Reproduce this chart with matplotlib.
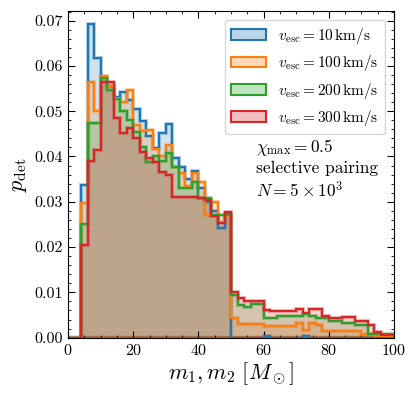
import numpy as np
import matplotlib
matplotlib.use("Agg")
from matplotlib import pyplot as plt
from matplotlib.patches import Patch
from matplotlib.ticker import MultipleLocator

plt.rcParams['font.family'] = 'serif'
plt.rcParams['font.serif'] = ['cmr10']
plt.rcParams['mathtext.fontset'] = 'cm'
plt.rcParams['axes.formatter.use_mathtext'] = True

# bins of 2 Msun from 0 to 100
edges = np.arange(0, 102, 2)
centers = edges[:-1] + 1

labels = [r'$v_{\rm esc}=10\,{\rm km/s}$', r'$v_{\rm esc}=100\,{\rm km/s}$',
          r'$v_{\rm esc}=200\,{\rm km/s}$', r'$v_{\rm esc}=300\,{\rm km/s}$']
colors = ['tab:blue', 'tab:orange', 'tab:green', 'tab:red']

p_10 = [0, 0, 0.0337, 0.0693, 0.0618, 0.0575, 0.0555, 0.0532, 0.0543, 0.0525,
        0.0504, 0.0478, 0.0445, 0.0418, 0.0451, 0.0471, 0.0396, 0.0376, 0.0350, 0.0367,
        0.0330, 0.0300, 0.0280, 0.0243, 0.0272,
        0, 0, 0, 0, 0, 0.0003, 0, 0, 0, 0,
        0, 0.0003, 0, 0, 0, 0, 0, 0, 0, 0,
        0, 0, 0, 0, 0]
p_100 = [0, 0, 0.0298, 0.0564, 0.0500, 0.0578, 0.0555, 0.0529, 0.0520, 0.0546,
         0.0470, 0.0456, 0.0458, 0.0416, 0.0400, 0.0425, 0.0377, 0.0363, 0.0335, 0.0363,
         0.0344, 0.0271, 0.0300, 0.0256, 0.0268,
         0.0043, 0.0030, 0.0030, 0.0030, 0.0030, 0.0025, 0.0025, 0.0025, 0.0025, 0.0025,
         0.0032, 0.0018, 0.0032, 0.0027, 0.0015, 0.0015, 0.0014, 0.0014, 0.0014, 0.0014,
         0.0007, 0.0007, 0.0003, 0.0003, 0.0003]
p_200 = [0, 0, 0.0252, 0.0473, 0.0475, 0.0573, 0.0546, 0.0526, 0.0500, 0.0480,
         0.0455, 0.0421, 0.0388, 0.0400, 0.0390, 0.0407, 0.0376, 0.0330, 0.0330, 0.0344,
         0.0308, 0.0308, 0.0271, 0.0271, 0.0271,
         0.0095, 0.0073, 0.0068, 0.0074, 0.0074, 0.0043, 0.0043, 0.0047, 0.0047, 0.0047,
         0.0047, 0.0052, 0.0047, 0.0043, 0.0043, 0.0036, 0.0036, 0.0032, 0.0032, 0.0029,
         0.0029, 0.0008, 0.0007, 0.0007, 0.0007]
p_300 = [0, 0, 0.0205, 0.0390, 0.0414, 0.0565, 0.0565, 0.0484, 0.0451, 0.0462,
         0.0440, 0.0410, 0.0396, 0.0388, 0.0366, 0.0359, 0.0311, 0.0310, 0.0310, 0.0310,
         0.0308, 0.0305, 0.0268, 0.0253, 0.0277,
         0.0101, 0.0087, 0.0082, 0.0080, 0.0080, 0.0062, 0.0059, 0.0059, 0.0058, 0.0058,
         0.0064, 0.0054, 0.0064, 0.0064, 0.0047, 0.0043, 0.0043, 0.0045, 0.0045, 0.0036,
         0.0036, 0.0029, 0.0012, 0.0006, 0.0006]

fig = plt.figure(figsize=(4.15, 3.94), dpi=100)
ax = fig.add_axes([0.164, 0.143, 0.7855, 0.83])

handles = []
for p, c, lab in zip([p_10, p_100, p_200, p_300], colors, labels):
    ax.hist(centers, bins=edges, weights=p, histtype='stepfilled',
            facecolor=matplotlib.colors.to_rgba(c, 0.2),
            edgecolor=matplotlib.colors.to_rgba(c, 0.3), lw=3)
    ax.hist(centers, bins=edges, weights=p, histtype='step', color=c, lw=1.5)
    handles.append(Patch(facecolor=matplotlib.colors.to_rgba(c, 0.3), edgecolor=c, lw=1.5, label=lab))

ax.set_xlim(0, 100)
ax.set_ylim(0, 0.0722)
ax.xaxis.set_major_locator(MultipleLocator(20))
ax.xaxis.set_minor_locator(MultipleLocator(5))
ax.yaxis.set_major_locator(MultipleLocator(0.01))
ax.yaxis.set_minor_locator(MultipleLocator(0.002))
ax.yaxis.set_major_formatter(matplotlib.ticker.FormatStrFormatter('%.2f'))
ax.tick_params(which='both', direction='in', top=True, right=True, labelsize=11.5)
ax.tick_params(which='major', length=5)
ax.tick_params(which='minor', length=2.5)

ax.set_xlabel(r'$m_1, m_2\ [M_\odot]$', fontsize=16, labelpad=2)
ax.set_ylabel(r'$p_{\rm det}$', fontsize=16, labelpad=4)

ax.legend(handles=handles, loc='upper right', fontsize=11.0, handlelength=2.3,
          borderaxespad=0.6, labelspacing=0.48, handletextpad=0.8)
ax.text(57.8, 0.0442, '$\\chi_{\\rm max} = 0.5$\nselective pairing\n$N = 5\\times 10^3$',
        fontsize=12.5, va='top', ha='left', linespacing=1.2)

fig.savefig('out.png', dpi=100)
